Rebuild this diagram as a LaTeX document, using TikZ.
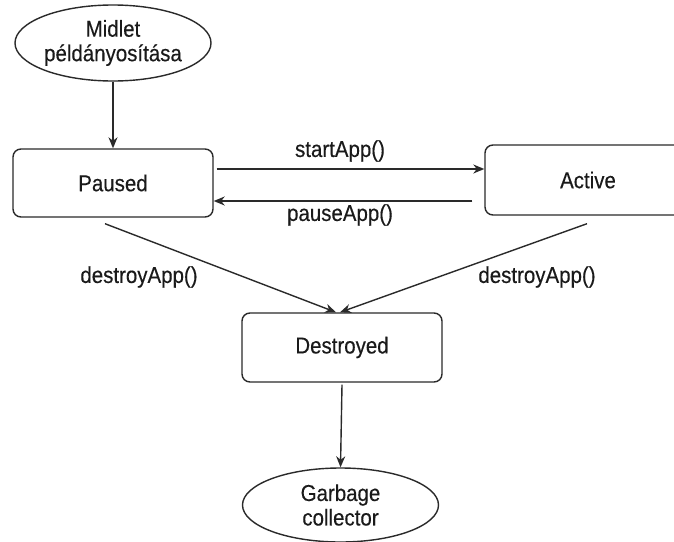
\documentclass[tikz,border=0pt]{standalone}
\usepackage{fontspec}
\setmainfont{Liberation Sans}
\newfontfamily\diagfont[FakeStretch=0.89,FakeBold=0.3]{Liberation Sans}
\usetikzlibrary{arrows.meta,shapes.geometric}
\definecolor{linec}{HTML}{2A2A2A}
\definecolor{textc}{HTML}{1A1A1A}
\tikzset{
  txt/.style={font=\diagfont\fontsize{23}{24.5}\selectfont, text=textc, align=center},
  statebox/.style={txt, draw=linec, line width=1.4pt, rounded corners=8pt, inner sep=0pt},
  ell/.style={txt, ellipse, draw=linec, line width=1.4pt, inner sep=0pt},
  arr/.style={draw=linec, line width=1.4pt, -{Stealth[length=11pt,width=9pt,inset=3.5pt]}},
  lbl/.style={txt, inner sep=0pt}
}
\begin{document}
\begin{tikzpicture}[x=1pt,y=-1pt]
\useasboundingbox (0,0) rectangle (674,541);
\fill[white] (0,0) rectangle (674,541);
\node[ell, minimum width=196pt, minimum height=76pt] (midlet) at (113,43) {Midlet\\példányosítása};
\node[statebox, minimum width=200pt, minimum height=68pt] (paused) at (113,183) {Paused};
\node[statebox, minimum width=206pt, minimum height=70pt] (active) at (588,180) {Active};
\node[statebox, minimum width=200pt, minimum height=69pt] (destroyed) at (342,347.5) {Destroyed};
\node[ell, minimum width=196pt, minimum height=74pt] (garbage) at (340.5,505) {Garbage\\collector};
\node[lbl] (lstart) at (340,151) {startApp()};
\node[lbl] (lpause) at (340,215) {pauseApp()};
\node[lbl] (ldestl) at (139,277) {destroyApp()};
\node[lbl] (ldestr) at (537,277) {destroyApp()};
\draw[arr] (midlet.south) -- (paused.north);
\draw[arr] ([xshift=3pt,yshift=14pt]paused.east) -- ([yshift=14pt]paused.east -| active.west);
\draw[arr] ([xshift=-12pt,yshift=-18pt]paused.east -| active.west) -- ([yshift=-18pt]paused.east);
\draw[arr] ([xshift=-8pt,yshift=-6pt]paused.south) -- ([xshift=-6pt]destroyed.north);
\draw[arr] ([xshift=-1pt,yshift=-8pt]active.south) -- ([xshift=-2pt]destroyed.north);
\draw[arr] ([yshift=-2pt]destroyed.south) -- (garbage.north);
\end{tikzpicture}
\end{document}
